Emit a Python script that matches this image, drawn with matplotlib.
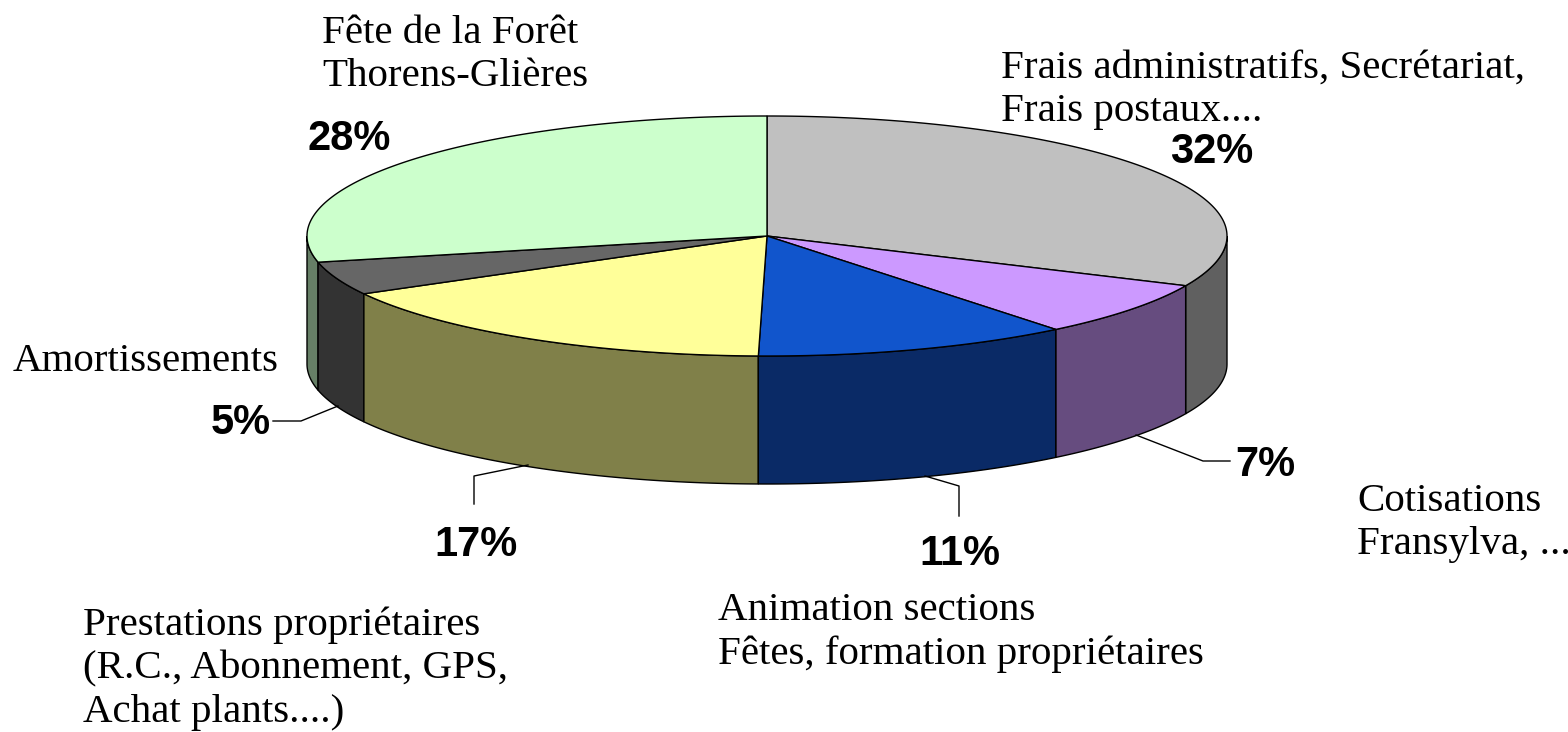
import numpy as np
import matplotlib
matplotlib.use('Agg')
import matplotlib.pyplot as plt
from matplotlib.patches import Polygon

# share of each slice, clockwise from 12 o'clock
values = [31.8, 7.4, 11.1, 16.7, 4.5, 28.5]
percent_labels = ['32%', '7%', '11%', '17%', '5%', '28%']
top_colors = ['#c0c0c0', '#cc99ff', '#1155cc', '#ffff99', '#666666', '#ccffcc']
side_colors = ['#606060', '#664c7f', '#0a2a66', '#808049', '#333333', '#667f66']

category_labels = [
    'Frais administratifs, Secrétariat,\nFrais postaux....',
    'Cotisations\nFransylva, ...',
    'Animation sections\nFêtes, formation propriétaires',
    'Prestations propriétaires\n(R.C., Abonnement, GPS,\nAchat plants....)',
    'Amortissements',
    'Fête de la Forêt\nThorens-Glières',
]

CX, CY = 767, 236
RX, RY = 460, 120
DEPTH = 128

percent_pos = [(1212, 152), (1265, 465), (960, 554), (476, 545), (241, 423), (349, 139)]
category_pos = [(1001, 50), (1357, 483), (718, 592), (83, 607), (13, 343), (322, 15)]
leaders = [
    None,
    [(1136, 435), (1203, 461), (1230, 461)],
    [(925, 476), (959, 486), (959, 516)],
    [(528, 465), (474, 476), (474, 504)],
    [(338, 406), (301, 421), (273, 421)],
    None,
]


def ellipse_pts(a0, a1, dy=0):
    # angles in degrees, clockwise from the top of the pie
    t = np.radians(np.linspace(a0, a1, max(int(abs(a1 - a0)) * 3, 2)))
    return np.column_stack([CX + RX * np.sin(t), CY + dy - RY * np.cos(t)])


fig = plt.figure(figsize=(15.68, 7.32), dpi=100)
ax = fig.add_axes([0, 0, 1, 1])
ax.set_xlim(0, 1568)
ax.set_ylim(732, 0)
ax.axis('off')

edges = np.concatenate([[0], np.cumsum(values)]) * 360 / sum(values)

# rim first, only the front half of the pie is visible
for i in np.argsort([abs((edges[k] + edges[k + 1]) / 2 - 180) for k in range(len(values))])[::-1]:
    a0 = max(edges[i], 90)
    a1 = min(edges[i + 1], 270)
    if a1 <= a0:
        continue
    front = ellipse_pts(a0, a1)
    back = ellipse_pts(a0, a1, DEPTH)[::-1]
    ax.add_patch(Polygon(np.vstack([front, back]), closed=True,
                         facecolor=side_colors[i], edgecolor='black', linewidth=1))

for i in range(len(values)):
    arc = ellipse_pts(edges[i], edges[i + 1])
    ax.add_patch(Polygon(np.vstack([[CX, CY], arc]), closed=True,
                         facecolor=top_colors[i], edgecolor='black', linewidth=1))

for line in leaders:
    if line is not None:
        xs, ys = zip(*line)
        ax.plot(xs, ys, color='black', linewidth=1)

for txt, (x, y) in zip(percent_labels, percent_pos):
    ax.text(x, y, txt, ha='center', va='center', fontsize=30, fontweight='bold',
            family='Liberation Sans')

for txt, (x, y) in zip(category_labels, category_pos):
    ax.text(x, y, txt, ha='left', va='top', fontsize=29.5, family='Liberation Serif',
            linespacing=1.22)

fig.savefig('out.png', dpi=100, facecolor='white')
